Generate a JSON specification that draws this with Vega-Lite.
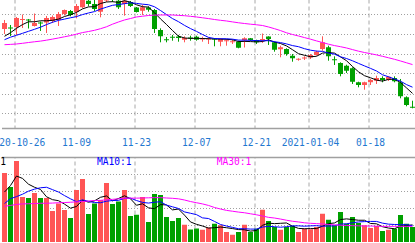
{
  "$schema": "https://vega.github.io/schema/vega-lite/v6.json",
  "autosize": {"type": "pad"},
  "padding": {"left": -32.5, "top": -1, "right": 0, "bottom": 0},
  "background": "#ffffff",
  "config": {"view": {"stroke": null}, "font": "DejaVu Sans Mono"},
  "data": {"values": [
    {"date":"2020-10-22","open":12.113,"high":12.338,"low":11.988,"close":12.263,"volume":40.6,"ma5":11.930,"ma10":11.845,"ma30":11.720,"vol_ma5":29.4,"vol_ma10":22.6,"vol_ma30":21.0},
    {"date":"2020-10-23","open":12.150,"high":12.213,"low":11.938,"close":12.125,"volume":32.4,"ma5":12.020,"ma10":11.908,"ma30":11.728,"vol_ma5":33.2,"vol_ma10":25.5,"vol_ma30":21.5},
    {"date":"2020-10-26","open":12.163,"high":12.413,"low":11.963,"close":12.388,"volume":47.6,"ma5":12.130,"ma10":11.955,"ma30":11.738,"vol_ma5":38.8,"vol_ma10":26.7,"vol_ma30":22.1},
    {"date":"2020-10-27","open":12.338,"high":12.475,"low":12.138,"close":12.363,"volume":26.5,"ma5":12.223,"ma10":12.005,"ma30":11.755,"vol_ma5":37.4,"vol_ma10":28.1,"vol_ma30":22.4},
    {"date":"2020-10-28","open":12.350,"high":12.363,"low":12.125,"close":12.325,"volume":25.9,"ma5":12.293,"ma10":12.055,"ma30":11.775,"vol_ma5":34.0,"vol_ma10":29.9,"vol_ma30":22.5},
    {"date":"2020-10-29","open":12.188,"high":12.500,"low":12.175,"close":12.263,"volume":28.8,"ma5":12.293,"ma10":12.105,"ma30":11.793,"vol_ma5":32.2,"vol_ma10":31.1,"vol_ma30":22.6},
    {"date":"2020-10-30","open":12.275,"high":12.300,"low":12.063,"close":12.250,"volume":25.9,"ma5":12.318,"ma10":12.158,"ma30":11.810,"vol_ma5":30.9,"vol_ma10":31.9,"vol_ma30":22.8},
    {"date":"2020-11-02","open":12.275,"high":12.438,"low":12.013,"close":12.388,"volume":25.9,"ma5":12.318,"ma10":12.223,"ma30":11.833,"vol_ma5":26.6,"vol_ma10":32.2,"vol_ma30":22.8},
    {"date":"2020-11-03","open":12.313,"high":12.450,"low":12.263,"close":12.413,"volume":18.2,"ma5":12.330,"ma10":12.280,"ma30":11.860,"vol_ma5":24.9,"vol_ma10":30.8,"vol_ma30":22.9},
    {"date":"2020-11-04","open":12.338,"high":12.538,"low":12.188,"close":12.488,"volume":22.6,"ma5":12.360,"ma10":12.328,"ma30":11.888,"vol_ma5":24.3,"vol_ma10":29.4,"vol_ma30":23.1},
    {"date":"2020-11-05","open":12.488,"high":12.600,"low":12.450,"close":12.588,"volume":18.8,"ma5":12.425,"ma10":12.360,"ma30":11.918,"vol_ma5":22.3,"vol_ma10":27.3,"vol_ma30":23.2},
    {"date":"2020-11-06","open":12.563,"high":12.588,"low":12.430,"close":12.463,"volume":14.1,"ma5":12.468,"ma10":12.393,"ma30":11.948,"vol_ma5":19.9,"vol_ma10":25.4,"vol_ma30":23.4},
    {"date":"2020-11-09","open":12.538,"high":12.738,"low":12.380,"close":12.688,"volume":30.6,"ma5":12.528,"ma10":12.423,"ma30":11.985,"vol_ma5":20.9,"vol_ma10":23.7,"vol_ma30":23.6},
    {"date":"2020-11-10","open":12.655,"high":12.888,"low":12.630,"close":12.855,"volume":37.1,"ma5":12.615,"ma10":12.473,"ma30":12.023,"vol_ma5":24.6,"vol_ma10":24.8,"vol_ma30":23.8},
    {"date":"2020-11-11","open":12.820,"high":12.875,"low":12.680,"close":12.738,"volume":16.5,"ma5":12.665,"ma10":12.513,"ma30":12.050,"vol_ma5":23.4,"vol_ma10":23.9,"vol_ma30":24.1},
    {"date":"2020-11-12","open":12.738,"high":12.863,"low":12.563,"close":12.613,"volume":22.6,"ma5":12.670,"ma10":12.548,"ma30":12.080,"vol_ma5":24.2,"vol_ma10":23.2,"vol_ma30":24.4},
    {"date":"2020-11-13","open":12.545,"high":12.913,"low":12.405,"close":12.863,"volume":24.7,"ma5":12.750,"ma10":12.610,"ma30":12.120,"vol_ma5":26.3,"vol_ma10":23.1,"vol_ma30":24.5},
    {"date":"2020-11-16","open":12.825,"high":12.963,"low":12.788,"close":12.888,"volume":34.7,"ma5":12.788,"ma10":12.658,"ma30":12.168,"vol_ma5":27.1,"vol_ma10":24.0,"vol_ma30":24.8},
    {"date":"2020-11-17","open":12.875,"high":12.938,"low":12.788,"close":12.850,"volume":22.4,"ma5":12.795,"ma10":12.705,"ma30":12.233,"vol_ma5":24.2,"vol_ma10":24.4,"vol_ma30":25.1},
    {"date":"2020-11-18","open":12.820,"high":12.863,"low":12.613,"close":12.655,"volume":23.8,"ma5":12.778,"ma10":12.723,"ma30":12.288,"vol_ma5":25.6,"vol_ma10":24.5,"vol_ma30":25.4},
    {"date":"2020-11-19","open":12.738,"high":12.863,"low":12.445,"close":12.820,"volume":30.6,"ma5":12.820,"ma10":12.745,"ma30":12.338,"vol_ma5":27.2,"vol_ma10":25.7,"vol_ma30":25.7},
    {"date":"2020-11-20","open":12.788,"high":12.813,"low":12.663,"close":12.688,"volume":15.3,"ma5":12.785,"ma10":12.768,"ma30":12.375,"vol_ma5":25.4,"vol_ma10":25.8,"vol_ma30":25.8},
    {"date":"2020-11-23","open":12.650,"high":12.663,"low":12.525,"close":12.538,"volume":16.1,"ma5":12.718,"ma10":12.753,"ma30":12.413,"vol_ma5":21.6,"vol_ma10":24.4,"vol_ma30":25.8},
    {"date":"2020-11-24","open":12.570,"high":12.713,"low":12.463,"close":12.655,"volume":26.5,"ma5":12.670,"ma10":12.733,"ma30":12.433,"vol_ma5":22.5,"vol_ma10":23.3,"vol_ma30":25.9},
    {"date":"2020-11-25","open":12.650,"high":12.680,"low":12.545,"close":12.595,"volume":11.8,"ma5":12.660,"ma10":12.719,"ma30":12.450,"vol_ma5":20.1,"vol_ma10":22.9,"vol_ma30":26.0},
    {"date":"2020-11-26","open":12.588,"high":12.613,"low":12.013,"close":12.113,"volume":28.2,"ma5":12.518,"ma10":12.669,"ma30":12.460,"vol_ma5":19.6,"vol_ma10":23.4,"vol_ma30":26.1},
    {"date":"2020-11-27","open":12.088,"high":12.130,"low":11.780,"close":11.930,"volume":27.6,"ma5":12.365,"ma10":12.575,"ma30":12.463,"vol_ma5":22.0,"vol_ma10":23.7,"vol_ma30":26.1},
    {"date":"2020-11-30","open":11.858,"high":11.913,"low":11.780,"close":11.833,"volume":14.7,"ma5":12.225,"ma10":12.473,"ma30":12.463,"vol_ma5":21.8,"vol_ma10":21.7,"vol_ma30":25.9},
    {"date":"2020-12-01","open":11.918,"high":11.963,"low":11.820,"close":11.893,"volume":12.4,"ma5":12.075,"ma10":12.373,"ma30":12.463,"vol_ma5":18.9,"vol_ma10":20.7,"vol_ma30":25.7},
    {"date":"2020-12-02","open":11.925,"high":11.963,"low":11.795,"close":11.888,"volume":14.1,"ma5":11.933,"ma10":12.295,"ma30":12.453,"vol_ma5":19.4,"vol_ma10":19.7,"vol_ma30":25.4},
    {"date":"2020-12-03","open":11.845,"high":11.930,"low":11.780,"close":11.888,"volume":10.2,"ma5":11.888,"ma10":12.203,"ma30":12.445,"vol_ma5":15.8,"vol_ma10":17.7,"vol_ma30":24.7},
    {"date":"2020-12-04","open":11.900,"high":11.945,"low":11.820,"close":11.875,"volume":7.4,"ma5":11.878,"ma10":12.123,"ma30":12.430,"vol_ma5":11.8,"vol_ma10":16.9,"vol_ma30":23.8},
    {"date":"2020-12-07","open":11.920,"high":11.945,"low":11.820,"close":11.845,"volume":7.9,"ma5":11.880,"ma10":12.053,"ma30":12.413,"vol_ma5":10.4,"vol_ma10":16.1,"vol_ma30":23.1},
    {"date":"2020-12-08","open":11.850,"high":11.920,"low":11.795,"close":11.875,"volume":7.2,"ma5":11.875,"ma10":11.975,"ma30":12.393,"vol_ma5":9.4,"vol_ma10":14.2,"vol_ma30":22.4},
    {"date":"2020-12-09","open":11.850,"high":11.905,"low":11.738,"close":11.875,"volume":8.5,"ma5":11.870,"ma10":11.903,"ma30":12.373,"vol_ma5":8.2,"vol_ma10":13.8,"vol_ma30":21.5},
    {"date":"2020-12-10","open":11.875,"high":11.880,"low":11.680,"close":11.850,"volume":10.8,"ma5":11.863,"ma10":11.875,"ma30":12.350,"vol_ma5":8.4,"vol_ma10":12.1,"vol_ma30":20.3},
    {"date":"2020-12-11","open":11.795,"high":11.880,"low":11.680,"close":11.863,"volume":9.8,"ma5":11.860,"ma10":11.869,"ma30":12.330,"vol_ma5":8.8,"vol_ma10":10.3,"vol_ma30":19.4},
    {"date":"2020-12-14","open":11.808,"high":11.863,"low":11.695,"close":11.833,"volume":5.9,"ma5":11.855,"ma10":11.868,"ma30":12.313,"vol_ma5":8.4,"vol_ma10":9.4,"vol_ma30":18.6},
    {"date":"2020-12-15","open":11.783,"high":11.845,"low":11.738,"close":11.808,"volume":4.3,"ma5":11.843,"ma10":11.858,"ma30":12.290,"vol_ma5":7.9,"vol_ma10":8.6,"vol_ma30":18.1},
    {"date":"2020-12-16","open":11.795,"high":11.820,"low":11.630,"close":11.645,"volume":5.9,"ma5":11.798,"ma10":11.835,"ma30":12.268,"vol_ma5":7.3,"vol_ma10":7.8,"vol_ma30":17.6},
    {"date":"2020-12-17","open":11.830,"high":11.905,"low":11.650,"close":11.880,"volume":10.2,"ma5":11.803,"ma10":11.833,"ma30":12.250,"vol_ma5":7.2,"vol_ma10":7.8,"vol_ma30":17.2},
    {"date":"2020-12-18","open":11.880,"high":11.888,"low":11.813,"close":11.838,"volume":5.9,"ma5":11.798,"ma10":11.830,"ma30":12.233,"vol_ma5":6.4,"vol_ma10":7.6,"vol_ma30":16.6},
    {"date":"2020-12-21","open":11.838,"high":11.845,"low":11.738,"close":11.780,"volume":7.8,"ma5":11.790,"ma10":11.823,"ma30":12.218,"vol_ma5":6.8,"vol_ma10":7.6,"vol_ma30":16.0},
    {"date":"2020-12-22","open":11.838,"high":12.000,"low":11.763,"close":11.863,"volume":19.0,"ma5":11.800,"ma10":11.820,"ma30":12.200,"vol_ma5":9.8,"vol_ma10":8.8,"vol_ma30":15.3},
    {"date":"2020-12-23","open":11.925,"high":11.930,"low":11.713,"close":11.863,"volume":12.4,"ma5":11.843,"ma10":11.820,"ma30":12.163,"vol_ma5":11.1,"vol_ma10":9.2,"vol_ma30":14.5},
    {"date":"2020-12-24","open":11.780,"high":11.795,"low":11.545,"close":11.595,"volume":8.8,"ma5":11.785,"ma10":11.795,"ma30":12.120,"vol_ma5":10.8,"vol_ma10":9.0,"vol_ma30":14.1},
    {"date":"2020-12-25","open":11.605,"high":11.695,"low":11.405,"close":11.655,"volume":7.2,"ma5":11.750,"ma10":11.773,"ma30":12.073,"vol_ma5":11.0,"vol_ma10":8.7,"vol_ma30":13.5},
    {"date":"2020-12-28","open":11.613,"high":11.630,"low":11.445,"close":11.488,"volume":8.8,"ma5":11.690,"ma10":11.740,"ma30":12.018,"vol_ma5":11.2,"vol_ma10":9.0,"vol_ma30":12.8},
    {"date":"2020-12-29","open":11.445,"high":11.488,"low":11.295,"close":11.380,"volume":9.4,"ma5":11.595,"ma10":11.698,"ma30":11.975,"vol_ma5":9.3,"vol_ma10":9.5,"vol_ma30":12.2},
    {"date":"2020-12-30","open":11.343,"high":11.380,"low":11.320,"close":11.368,"volume":5.9,"ma5":11.495,"ma10":11.670,"ma30":11.938,"vol_ma5":8.0,"vol_ma10":9.5,"vol_ma30":11.8},
    {"date":"2020-12-31","open":11.375,"high":11.430,"low":11.338,"close":11.400,"volume":7.8,"ma5":11.455,"ma10":11.620,"ma30":11.898,"vol_ma5":7.8,"vol_ma10":9.3,"vol_ma30":11.3},
    {"date":"2021-01-04","open":11.400,"high":11.488,"low":11.363,"close":11.463,"volume":7.5,"ma5":11.418,"ma10":11.583,"ma30":11.858,"vol_ma5":7.9,"vol_ma10":9.5,"vol_ma30":11.0},
    {"date":"2021-01-05","open":11.463,"high":11.570,"low":11.445,"close":11.545,"volume":8.8,"ma5":11.430,"ma10":11.560,"ma30":11.815,"vol_ma5":7.9,"vol_ma10":9.6,"vol_ma30":10.8},
    {"date":"2021-01-06","open":11.613,"high":11.930,"low":11.570,"close":11.780,"volume":16.6,"ma5":11.510,"ma10":11.553,"ma30":11.775,"vol_ma5":9.3,"vol_ma10":9.3,"vol_ma30":10.6},
    {"date":"2021-01-07","open":11.655,"high":11.695,"low":11.320,"close":11.430,"volume":13.1,"ma5":11.523,"ma10":11.510,"ma30":11.733,"vol_ma5":10.8,"vol_ma10":9.4,"vol_ma30":10.3},
    {"date":"2021-01-08","open":11.358,"high":11.430,"low":11.213,"close":11.333,"volume":9.8,"ma5":11.510,"ma10":11.483,"ma30":11.698,"vol_ma5":11.2,"vol_ma10":9.5,"vol_ma30":10.1},
    {"date":"2021-01-11","open":11.263,"high":11.280,"low":10.930,"close":10.988,"volume":17.6,"ma5":11.415,"ma10":11.418,"ma30":11.670,"vol_ma5":13.2,"vol_ma10":10.5,"vol_ma30":9.9},
    {"date":"2021-01-12","open":11.195,"high":11.220,"low":11.013,"close":11.070,"volume":10.8,"ma5":11.320,"ma10":11.375,"ma30":11.638,"vol_ma5":13.6,"vol_ma10":10.7,"vol_ma30":9.7},
    {"date":"2021-01-13","open":11.130,"high":11.155,"low":10.738,"close":10.795,"volume":14.7,"ma5":11.175,"ma10":11.318,"ma30":11.598,"vol_ma5":13.2,"vol_ma10":11.3,"vol_ma30":9.6},
    {"date":"2021-01-14","open":10.780,"high":10.795,"low":10.655,"close":10.713,"volume":11.2,"ma5":11.043,"ma10":11.253,"ma30":11.558,"vol_ma5":12.8,"vol_ma10":11.8,"vol_ma30":9.5},
    {"date":"2021-01-15","open":10.713,"high":10.795,"low":10.595,"close":10.780,"volume":9.8,"ma5":10.945,"ma10":11.190,"ma30":11.525,"vol_ma5":12.8,"vol_ma10":12.0,"vol_ma30":9.4},
    {"date":"2021-01-18","open":10.780,"high":10.863,"low":10.713,"close":10.838,"volume":8.2,"ma5":10.893,"ma10":11.128,"ma30":11.495,"vol_ma5":10.9,"vol_ma10":12.1,"vol_ma30":9.4},
    {"date":"2021-01-19","open":10.820,"high":10.945,"low":10.738,"close":10.888,"volume":9.4,"ma5":10.835,"ma10":11.063,"ma30":11.465,"vol_ma5":10.7,"vol_ma10":12.1,"vol_ma30":9.3},
    {"date":"2021-01-20","open":10.888,"high":10.930,"low":10.780,"close":10.838,"volume":6.5,"ma5":10.810,"ma10":10.968,"ma30":11.430,"vol_ma5":9.0,"vol_ma10":11.1,"vol_ma30":9.2},
    {"date":"2021-01-21","open":10.845,"high":10.930,"low":10.813,"close":10.920,"volume":7.2,"ma5":10.853,"ma10":10.918,"ma30":11.393,"vol_ma5":8.2,"vol_ma10":10.5,"vol_ma30":9.2},
    {"date":"2021-01-22","open":10.888,"high":10.930,"low":10.780,"close":10.805,"volume":7.8,"ma5":10.858,"ma10":10.863,"ma30":11.355,"vol_ma5":7.8,"vol_ma10":10.3,"vol_ma30":9.2},
    {"date":"2021-01-25","open":10.780,"high":10.863,"low":10.380,"close":10.430,"volume":15.9,"ma5":10.775,"ma10":10.808,"ma30":11.313,"vol_ma5":9.4,"vol_ma10":10.2,"vol_ma30":9.2},
    {"date":"2021-01-26","open":10.405,"high":10.430,"low":10.180,"close":10.213,"volume":10.8,"ma5":10.640,"ma10":10.723,"ma30":11.268,"vol_ma5":9.6,"vol_ma10":10.2,"vol_ma30":9.2},
    {"date":"2021-01-27","open":10.168,"high":10.320,"low":10.130,"close":10.143,"volume":8.8,"ma5":10.503,"ma10":10.658,"ma30":11.223,"vol_ma5":10.1,"vol_ma10":9.6,"vol_ma30":9.2}
  ]},
  "vconcat": [
    {
      "width": 414,
      "height": 129,
      "encoding": {
        "x": {
          "field": "date", "type": "ordinal",
          "scale": {"type": "band", "paddingInner": 0, "paddingOuter": 0},
          "axis": {
            "title": null, "orient": "bottom",
            "values": ["2020-10-26","2020-11-09","2020-11-23","2020-12-07","2020-12-21","2021-01-04","2021-01-18"],
            "labelExpr": "datum.value == '2020-10-26' || datum.value == '2021-01-04' ? datum.value : substring(datum.value, 5)",
            "labelAngle": 0, "labelFont": "DejaVu Sans Mono", "labelFontSize": 9.6, "labelColor": "#1f78d0",
            "labelPadding": 17.8, "labelBaseline": "alphabetic", "labelOverlap": false, "labelFlush": false,
            "ticks": false, "tickSize": 0,
            "domain": true, "domainColor": "#a0a0a0", "domainWidth": 1.5,
            "grid": true, "gridColor": "#a8a8a8", "gridDash": [4, 3], "gridWidth": 1,
            "bandPosition": 0.1667
          }
        }
      },
      "layer": [
        {
          "mark": {"type": "rule", "strokeWidth": 1, "clip": true},
          "encoding": {
            "y": {"field": "low", "type": "quantitative",
              "scale": {"domain": [9.6375, 12.8625], "zero": false, "nice": false},
              "axis": {"title": null, "values": [10, 10.5, 11, 11.5, 12, 12.5], "labels": false, "ticks": false, "domain": false,
                "grid": true, "gridColor": "#a0a0a0", "gridDash": [1, 2], "gridWidth": 1}},
            "y2": {"field": "high"},
            "color": {"condition": {"test": "datum.close >= datum.open", "value": "#ff5555"}, "value": "#00a000"}
          }
        },
        {
          "mark": {"type": "bar", "width": 5, "clip": true},
          "encoding": {
            "y": {"field": "open", "type": "quantitative",
              "scale": {"domain": [9.6375, 12.8625], "zero": false, "nice": false},
              "axis": {"title": null, "values": [10, 10.5, 11, 11.5, 12, 12.5], "labels": false, "ticks": false, "domain": false,
                "grid": true, "gridColor": "#a0a0a0", "gridDash": [1, 2], "gridWidth": 1}},
            "y2": {"field": "close"},
            "color": {"condition": {"test": "datum.close >= datum.open", "value": "#ff5555"}, "value": "#00a000"}
          }
        },
        {
          "transform": [{"fold": ["ma5", "ma10", "ma30"], "as": ["line", "price"]}],
          "mark": {"type": "line", "strokeWidth": 1, "clip": true},
          "encoding": {
            "y": {"field": "price", "type": "quantitative",
              "scale": {"domain": [9.6375, 12.8625], "zero": false, "nice": false},
              "axis": {"title": null, "values": [10, 10.5, 11, 11.5, 12, 12.5], "labels": false, "ticks": false, "domain": false,
                "grid": true, "gridColor": "#a0a0a0", "gridDash": [1, 2], "gridWidth": 1}},
            "color": {"field": "line", "type": "nominal",
              "scale": {"domain": ["ma5", "ma10", "ma30"], "range": ["#000000", "#0000ff", "#ff00ff"]},
              "legend": null}
          }
        }
      ]
    },
    {
      "width": 414,
      "height": 85,
      "encoding": {
        "x": {
          "field": "date", "type": "ordinal",
          "scale": {"type": "band", "paddingInner": 0, "paddingOuter": 0},
          "axis": {
            "title": null, "orient": "top",
            "values": ["2020-10-26","2020-11-09","2020-11-23","2020-12-07","2020-12-21","2021-01-04","2021-01-18"],
            "labels": false, "ticks": false, "tickSize": 0,
            "domain": true, "domainColor": "#a0a0a0", "domainWidth": 1.5,
            "grid": true, "gridColor": "#a8a8a8", "gridDash": [4, 3], "gridWidth": 1,
            "bandPosition": 0.1667
          }
        }
      },
      "layer": [
        {
          "mark": {"type": "bar", "width": 5, "clip": true},
          "encoding": {
            "y": {"field": "volume", "type": "quantitative",
              "scale": {"domain": [0, 50], "nice": false},
              "axis": {"title": null, "values": [10, 20, 30, 40], "labels": false, "ticks": false, "domain": false,
                "grid": true, "gridColor": "#a0a0a0", "gridDash": [1, 2], "gridWidth": 1}},
            "color": {"condition": {"test": "datum.close >= datum.open", "value": "#ff5555"}, "value": "#00a000"}
          }
        },
        {
          "transform": [{"fold": ["vol_ma5", "vol_ma10", "vol_ma30"], "as": ["line", "level"]}],
          "mark": {"type": "line", "strokeWidth": 1, "clip": true},
          "encoding": {
            "y": {"field": "level", "type": "quantitative",
              "scale": {"domain": [0, 50], "nice": false},
              "axis": {"title": null, "values": [10, 20, 30, 40], "labels": false, "ticks": false, "domain": false,
                "grid": true, "gridColor": "#a0a0a0", "gridDash": [1, 2], "gridWidth": 1}},
            "color": {"field": "line", "type": "nominal",
              "scale": {"domain": ["vol_ma5", "vol_ma10", "vol_ma30"], "range": ["#000000", "#0000ff", "#ff00ff"]},
              "legend": {
                "title": null, "orient": "none", "legendX": -34, "legendY": 0,
                "direction": "horizontal", "columns": 3, "gridAlign": "all", "columnPadding": 74.8,
                "padding": 0, "symbolSize": 0, "symbolOpacity": 0, "symbolStrokeWidth": 0, "labelOffset": 0,
                "labelFont": "DejaVu Sans Mono", "labelFontSize": 9.6,
                "labelExpr": "datum.value == 'vol_ma5' ? 'MA5:1' : datum.value == 'vol_ma10' ? 'MA10:1' : 'MA30:1'",
                "encode": {"labels": {"update": {"fill": {"signal": "datum.value == 'vol_ma5' ? '#000000' : datum.value == 'vol_ma10' ? '#0000ff' : '#ff00ff'"}}}}
              }}
          }
        }
      ]
    }
  ],
  "spacing": 29,
  "bounds": "flush",
  "resolve": {"scale": {"color": "independent"}}
}
